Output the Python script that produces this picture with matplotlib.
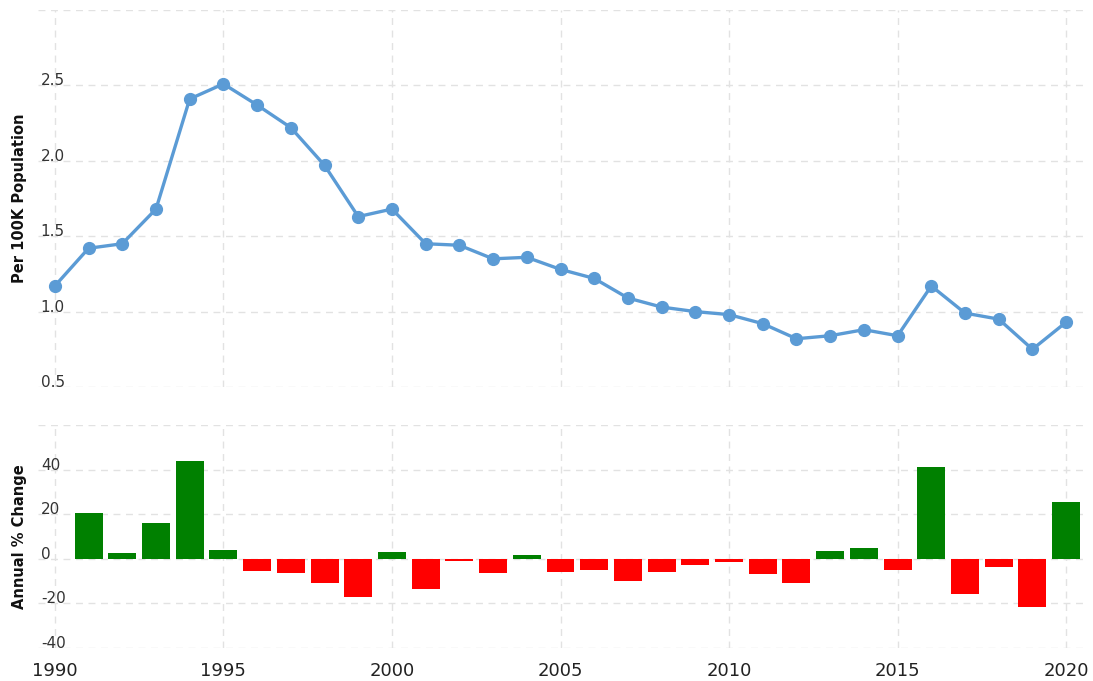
import matplotlib
matplotlib.use("Agg")
import matplotlib.pyplot as plt
import numpy as np

years = list(range(1990, 2021))
rate = [1.17, 1.42, 1.45, 1.68, 2.41, 2.51, 2.37, 2.22, 1.97, 1.63, 1.68,
        1.45, 1.44, 1.35, 1.36, 1.28, 1.22, 1.09, 1.03, 1.00, 0.98,
        0.92, 0.82, 0.84, 0.88, 0.84, 1.17, 0.99, 0.95, 0.75, 0.93]
change_years = list(range(1991, 2021))
pct_change = [20.5, 2.5, 16.0, 44.0, 4.0, -5.5, -6.5, -11.0, -17.0, 3.0,
              -13.5, -1.0, -6.5, 1.5, -6.0, -5.0, -10.0, -6.0, -3.0, -1.3,
              -7.0, -11.0, 3.5, 5.0, -5.0, 41.0, -15.7, -3.7, -21.5, 25.5]
top_ticks = [0.5, 1.0, 1.5, 2.0, 2.5]
bottom_ticks = [-40, -20, 0, 20, 40]
x_ticks = [1990, 1995, 2000, 2005, 2010, 2015, 2020]

plt.rcParams['font.family'] = ['DejaVu Sans']
W, H = 1093, 681
fig = plt.figure(figsize=(W / 100, H / 100), dpi=100)

left = 38 / W
width = (1083 - 38) / W
ax1 = fig.add_axes([left, 1 - 387 / H, width, (387 - 10) / H])
ax2 = fig.add_axes([left, 1 - 648 / H, width, (648 - 425) / H])

grid_kw = dict(color='#e2e2e2', linestyle=(0, (5, 4)), linewidth=1.0)
line_color = '#5b9bd5'

ax1.plot(years, rate, color=line_color, linewidth=2.4, marker='o',
         markersize=8.5, zorder=3)
ax1.set_ylim(0.5, 3.0)
ax1.set_yticks(top_ticks + [3.0])
ax1.set_yticklabels([f"{t:.1f}" for t in top_ticks] + [""])

colors = ['#008000' if v >= 0 else '#ff0000' for v in pct_change]
ax2.bar(change_years, pct_change, width=0.83, color=colors, zorder=3)
ax2.set_ylim(-40, 60)
ax2.set_yticks(bottom_ticks + [60])
ax2.set_yticklabels([str(t) for t in bottom_ticks] + [""])

for ax in (ax1, ax2):
    ax.set_xlim(1989.5, 2020.5)
    ax.set_xticks(x_ticks)
    ax.grid(True, **grid_kw)
    ax.set_axisbelow(True)
    for s in ax.spines.values():
        s.set_visible(False)
    ax.tick_params(axis='y', length=0, pad=-2, labelsize=11,
                   labelcolor='#333333')
    for lab in ax.get_yticklabels():
        lab.set_horizontalalignment('left')
        lab.set_verticalalignment('baseline')

ax1.tick_params(axis='x', length=0, labelbottom=False)
ax2.tick_params(axis='x', length=0, labelsize=13, labelcolor='#222222', pad=10)

ax1.set_ylabel('Per 100K Population', fontsize=10.5, fontweight='bold',
               color='#111111')
ax2.set_ylabel('Annual % Change', fontsize=10.5, fontweight='bold',
               color='#111111')
ax1.yaxis.set_label_coords(-0.011, 0.5)
ax2.yaxis.set_label_coords(-0.011, 0.5)

fig.savefig('out.png', dpi=100, facecolor='white')
